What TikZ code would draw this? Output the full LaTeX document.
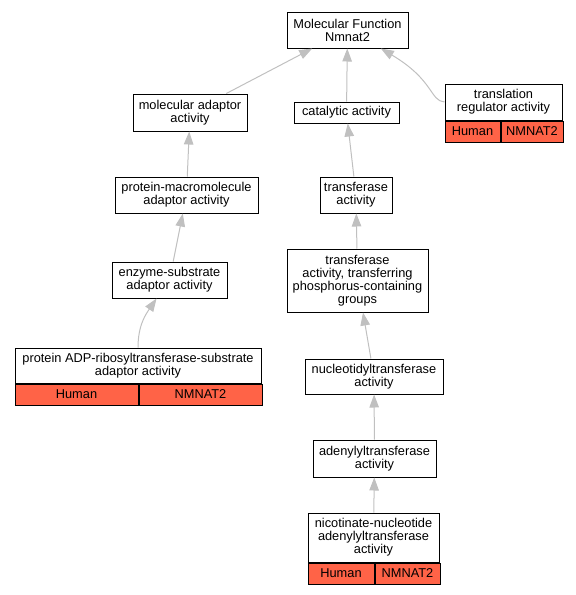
\documentclass[tikz,border=0pt]{standalone}
\usepackage{fontspec}
\setmainfont{Liberation Sans}
\usetikzlibrary{arrows.meta,positioning,calc}
\definecolor{annot}{HTML}{FF6347}
\definecolor{edgegray}{HTML}{C0C0C0}

\begin{document}
\begin{tikzpicture}[
  x=1pt, y=-1pt,
  font=\fontsize{12.8}{13}\selectfont,
  term/.style={draw, line width=1pt, fill=white, align=center, inner sep=0pt},
  cell/.style={draw, line width=1pt, fill=annot, inner sep=0pt,
               minimum height=21pt, anchor=north west},
  arr/.style={-{Triangle[length=13pt, width=9.5pt]}, edgegray, line width=1pt}
]
\useasboundingbox (0,0) rectangle (576,595);

% ---------- top ----------
\node[term, minimum width=121pt, minimum height=36pt] (mf) at (347.5,30)
  {Molecular Function\\Nmnat2};
\node[term, minimum width=114pt, minimum height=37pt] (molad) at (190,112.5)
  {molecular adaptor\\activity};
\node[term, minimum width=105pt, minimum height=21pt] (catal) at (346.5,112.5)
  {catalytic activity};
\node[term, minimum width=117pt, minimum height=36pt] (transl) at (503.5,102)
  {translation\\regulator activity};
\node[cell, minimum width=55pt] (translhum) at (transl.south west) {Human};
\node[cell, minimum width=62pt] (translgene) at (translhum.north east) {NMNAT2};

% ---------- adaptor branch ----------
\node[term, minimum width=143pt, minimum height=36pt] (protmac) at (186.5,195)
  {protein-macromolecule\\adaptor activity};
\node[term, minimum width=115pt, minimum height=36pt] (enzsub) at (169.5,280)
  {enzyme-substrate\\adaptor activity};
\node[term, minimum width=246pt, minimum height=35pt] (protadp) at (138,365.5)
  {protein ADP-ribosyltransferase-substrate\\adaptor activity};
\node[cell, minimum width=123pt] (protadphum) at (protadp.south west) {Human};
\node[cell, minimum width=123pt] (protadpgene) at (protadphum.north east) {NMNAT2};

% ---------- transferase branch ----------
\node[term, minimum width=72pt, minimum height=36pt] (transf) at (356,195)
  {transferase\\activity};
\node[term, minimum width=141pt, minimum height=63pt] (transfp) at (357.5,280.5)
  {transferase\\activity, transferring\\phosphorus-containing\\groups};
\node[term, minimum width=138pt, minimum height=35pt] (nucl) at (374,376.5)
  {nucleotidyltransferase\\activity};
\node[term, minimum width=123pt, minimum height=37pt] (adenyl) at (374.5,458.5)
  {adenylyltransferase\\activity};
\node[term, minimum width=131pt, minimum height=49pt] (nicot) at (373.5,537.5)
  {nicotinate-nucleotide\\adenylyltransferase\\activity};
\node[cell, minimum width=66pt] (nicothum) at (nicot.south west) {Human};
\node[cell, minimum width=65pt] (nicotgene) at (nicothum.north east) {NMNAT2};

% ---------- is_a edges ----------
\draw[arr] (molad) -- (mf);
\draw[arr] (catal) -- (mf);
\draw[arr] (transl.west) .. controls (430,101) and (434,80) .. (mf.-29);
\draw[arr] (protmac) -- (molad);
\draw[arr] (enzsub) -- (protmac);
\draw[arr] (protadp.north) .. controls (138,325) and (146,314) .. (enzsub.235);
\draw[arr] (transf) -- (catal);
\draw[arr] (transfp) -- (transf);
\draw[arr] (nucl) -- (transfp);
\draw[arr] (adenyl) -- (nucl);
\draw[arr] (nicot) -- (adenyl);

\end{tikzpicture}
\end{document}
